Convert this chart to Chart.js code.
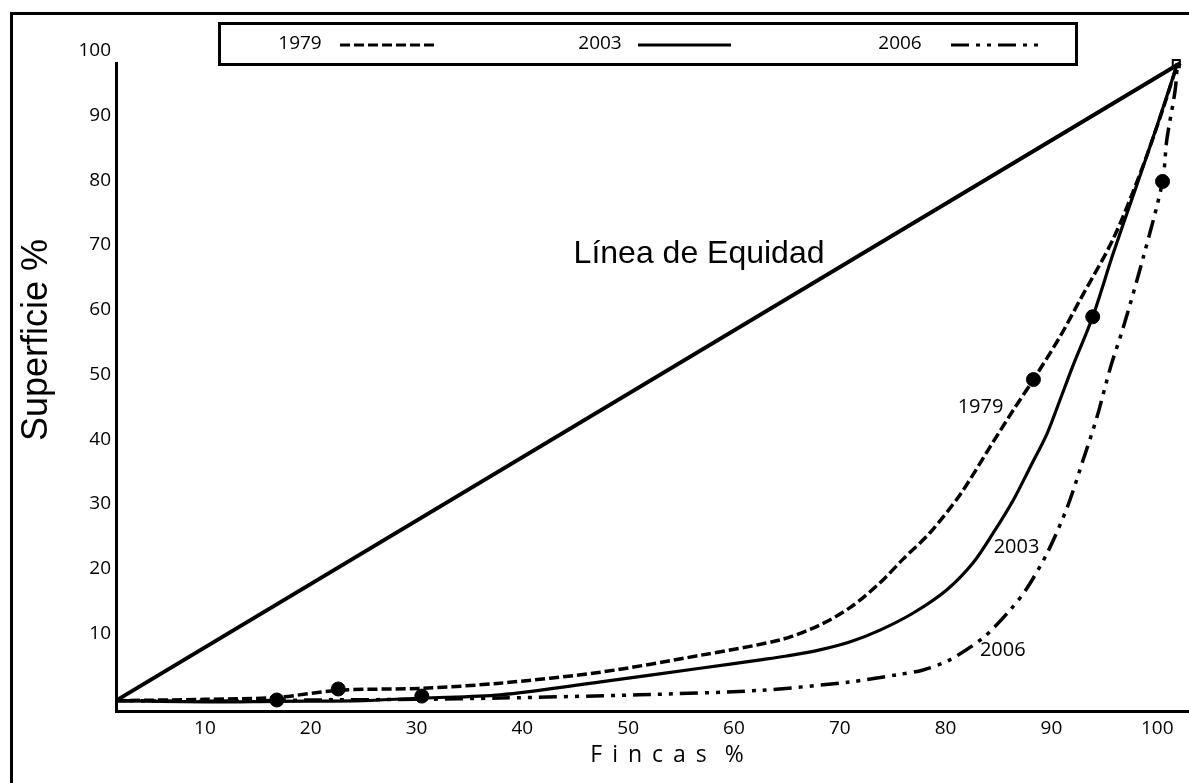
<!DOCTYPE html>
<html>
<head>
<meta charset="utf-8">
<script src="https://cdn.jsdelivr.net/npm/chart.js@4/dist/chart.umd.min.js"></script>
<style>
  html, body { margin: 0; padding: 0; background: #fff; }
  #wrap { position: relative; width: 1189px; height: 783px; }
  #frame { position: absolute; left: 10px; top: 12px; right: 0; bottom: 0;
           border-top: 3px solid #000; border-left: 3px solid #000; }
  #chart { position: absolute; left: 0; top: 0; }
</style>
</head>
<body>
<div id="wrap">
  <div id="frame"></div>
  <canvas id="chart" width="1189" height="783"></canvas>
</div>
<script>
  // Curvas de Lorenz: % fincas (x) vs % superficie (y)
  const x1979 = [1.6, 10, 16.8, 22.6, 30.5, 37.9, 47.4, 56.8, 64.4, 68, 71, 73.8, 76, 78.5, 81.4, 84.2, 86.4, 88.3, 90.8, 92.7, 95.8, 98.4, 100.6, 101.9];
  const y1979 = [-0.4, -0.2, 0.1, 1.2, 1.5, 2.3, 4.0, 6.6, 9.0, 11.2, 14.0, 17.8, 21.5, 25.5, 31.5, 38.8, 44.5, 49.2, 55.8, 61.5, 70.8, 81.1, 91.3, 98];

  const x2003 = [1.6, 10, 16.8, 25, 30.5, 37.9, 47.4, 56.8, 62.5, 65, 68, 71, 73.8, 76.9, 80.1, 82.6, 84.5, 86.4, 88, 89.6, 90.8, 92, 93.9, 95.8, 97.8, 100, 101.9];
  const y2003 = [-0.4, -0.6, -0.5, -0.4, 0.0, 0.5, 2.5, 4.6, 5.9, 6.5, 7.4, 8.7, 10.5, 13.1, 16.7, 20.9, 25.5, 30.6, 35.7, 40.9, 46, 51.2, 58.9, 68.5, 78, 88.5, 98];

  const x2006 = [1.6, 10, 20, 30, 37.9, 51, 62.5, 71, 75.4, 77.8, 80.4, 83.6, 86.1, 87.7, 89.6, 91.5, 93, 94.3, 95.6, 96.8, 98.7, 100.5, 100.9, 101.7, 101.9];
  const y2006 = [-0.4, -0.5, -0.3, -0.2, 0, 0.5, 1.2, 2.5, 3.6, 4.3, 5.9, 9.4, 13.6, 17.0, 22.4, 29.5, 36.8, 43.4, 51.2, 57.3, 68.2, 79.8, 86.2, 94, 98];

  const xEquidad = [1.6, 102.2];
  const yEquidad = [-0.4, 98.1];

  const xMarcas = [16.8, 22.6, 30.5, 88.3, 93.9, 100.5];
  const yMarcas = [-0.3, 1.4, 0.3, 49.2, 58.9, 79.8];
  const xFinal = [101.8];
  const yFinal = [98];

  const xTicks = [10, 20, 30, 40, 50, 60, 70, 80, 90, 100];
  const yTicks = [10, 20, 30, 40, 50, 60, 70, 80, 90, 100];

  const toPts = (xs, ys) => xs.map((v, i) => ({ x: v, y: ys[i] }));

  const dash1979 = [10, 4];
  const dash2006 = [18, 7, 4, 7, 4, 7];

  const leyenda = [
    { text: '1979', tx: 300, x0: 340, x1: 435, dash: dash1979 },
    { text: '2003', tx: 600, x0: 638, x1: 731, dash: [] },
    { text: '2006', tx: 900, x0: 951, x1: 1044, dash: dash2006 }
  ];

  const notas = [
    { text: 'Línea de Equidad', x: 56.7, y: 68.5, font: '32px "Liberation Sans", Arial, sans-serif' },
    { text: '1979', x: 83.3, y: 44.9, font: '20px "Open Sans", sans-serif' },
    { text: '2003', x: 86.7, y: 23.3, font: '20px "Open Sans", sans-serif' },
    { text: '2006', x: 85.4, y: 7.4, font: '20px "Open Sans", sans-serif' }
  ];

  const extras = {
    id: 'extras',
    afterDraw(chart) {
      const { ctx, scales: { x, y } } = chart;
      ctx.save();
      ctx.fillStyle = '#000';
      ctx.textAlign = 'center';
      ctx.textBaseline = 'middle';
      notas.forEach(n => {
        ctx.font = n.font;
        ctx.fillText(n.text, x.getPixelForValue(n.x), y.getPixelForValue(n.y));
      });

      // títulos de ejes
      ctx.font = '23px "Open Sans", sans-serif';
      ctx.letterSpacing = '2px';
      ctx.fillText('F i n c a s  %', 668, 755);
      ctx.letterSpacing = '0px';
      ctx.save();
      ctx.translate(37, 340);
      ctx.rotate(-Math.PI / 2);
      ctx.font = '36px "Liberation Sans", Arial, sans-serif';
      ctx.fillText('Superficie %', 0, 0);
      ctx.restore();

      // caja de leyenda
      ctx.fillStyle = '#fff';
      ctx.fillRect(219, 23, 857, 41);
      ctx.lineWidth = 3;
      ctx.strokeStyle = '#000';
      ctx.strokeRect(219.5, 23.5, 857, 41);
      ctx.fillStyle = '#000';
      ctx.font = '19px "Open Sans", sans-serif';
      leyenda.forEach(l => {
        ctx.fillText(l.text, l.tx, 44);
        ctx.setLineDash(l.dash);
        ctx.beginPath();
        ctx.moveTo(l.x0, 45);
        ctx.lineTo(l.x1, 45);
        ctx.stroke();
      });
      ctx.restore();
    }
  };

  new Chart(document.getElementById('chart'), {
    type: 'line',
    data: {
      datasets: [
        { label: 'Línea de Equidad', data: toPts(xEquidad, yEquidad), borderColor: '#000', borderWidth: 4, pointRadius: 0, clip: false },
        { label: '1979', data: toPts(x1979, y1979), borderColor: '#000', borderWidth: 3.5, borderDash: dash1979, pointRadius: 0, tension: 0.3, clip: false },
        { label: '2003', data: toPts(x2003, y2003), borderColor: '#000', borderWidth: 3.2, pointRadius: 0, tension: 0.3, clip: false },
        { label: '2006', data: toPts(x2006, y2006), borderColor: '#000', borderWidth: 3.5, borderDash: dash2006, pointRadius: 0, tension: 0.3, clip: false },
        { label: 'marcas', data: toPts(xMarcas, yMarcas), showLine: false, pointRadius: 7, pointBackgroundColor: '#000', pointBorderColor: '#000', clip: false },
        { label: 'final', data: toPts(xFinal, yFinal), showLine: false, pointStyle: 'rect', pointRadius: 5, pointBackgroundColor: '#fff', pointBorderColor: '#000', pointBorderWidth: 2, clip: false }
      ]
    },
    options: {
      responsive: false,
      animation: false,
      layout: { autoPadding: false, padding: { top: 63, left: 0, right: 0, bottom: 0 } },
      plugins: { legend: { display: false }, tooltip: { enabled: false } },
      scales: {
        x: {
          type: 'linear',
          min: 1.6,
          max: 103,
          afterBuildTicks: s => { s.ticks = xTicks.map(v => ({ value: v })); },
          afterFit: s => { s.height = 72; },
          grid: { display: false, drawTicks: false },
          border: { color: '#000', width: 3 },
          ticks: { color: '#000', font: { family: 'Open Sans', size: 19 }, padding: 6, autoSkip: false, maxRotation: 0 },
          title: { display: false }
        },
        y: {
          type: 'linear',
          min: -2,
          max: 98.1,
          afterBuildTicks: s => { s.ticks = yTicks.map(v => ({ value: v })); },
          afterFit: s => { s.width = 116; },
          grid: { display: false, drawTicks: false },
          border: { color: '#000', width: 3 },
          ticks: { color: '#000', font: { family: 'Open Sans', size: 19 }, padding: 5, autoSkip: false },
          title: { display: false }
        }
      }
    },
    plugins: [extras]
  });
</script>
</body>
</html>
